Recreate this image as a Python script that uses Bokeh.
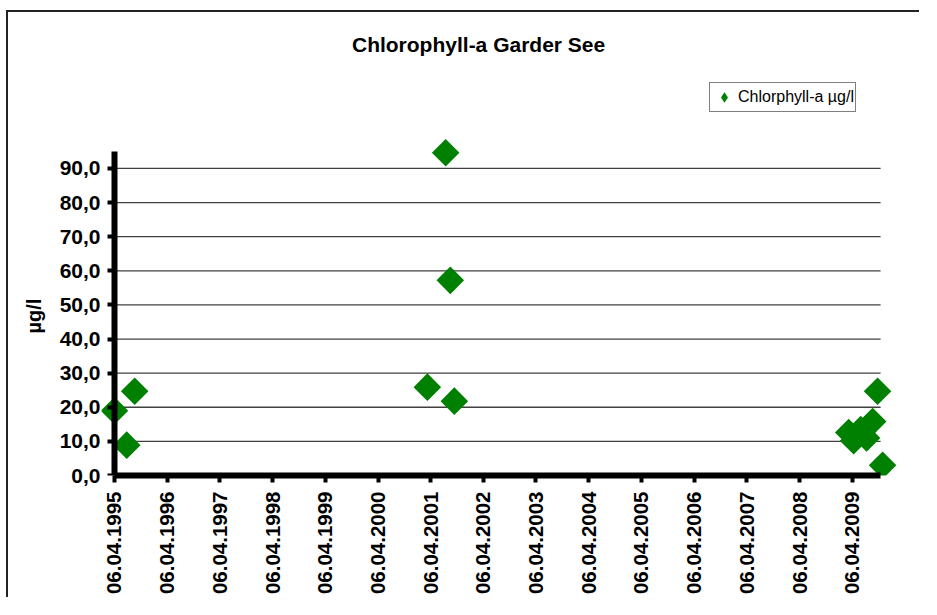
import pandas as pd
from math import pi
from bokeh.plotting import figure
from bokeh.models import (Range1d, FixedTicker, DatetimeTickFormatter, Legend, LegendItem,
                          Title, ColumnDataSource, LinearAxis, Label)
from bokeh.embed import file_html
from bokeh.resources import INLINE

# ---- data ----
sample_dates = ["1995-04-06", "1995-06-30", "1995-08-24",
                "2001-03-14", "2001-07-19", "2001-08-20", "2001-09-17",
                "2009-03-13", "2009-04-16", "2009-06-04", "2009-07-15",
                "2009-08-26", "2009-09-29", "2009-11-03"]
chlorophyll = [19.0, 8.9, 24.7,
               25.9, 94.6, 57.2, 21.8,
               12.6, 10.2, 13.5, 11.0,
               15.8, 24.7, 3.0]

x_tick_dates = ["1995-04-06", "1996-04-06", "1997-04-06", "1998-04-06", "1999-04-06",
                "2000-04-06", "2001-04-06", "2002-04-06", "2003-04-06", "2004-04-06",
                "2005-04-06", "2006-04-06", "2007-04-06", "2008-04-06", "2009-04-06"]
y_ticks = [0, 10, 20, 30, 40, 50, 60, 70, 80, 90]
y_tick_labels = ["0,0", "10,0", "20,0", "30,0", "40,0", "50,0", "60,0", "70,0", "80,0", "90,0"]

x_axis_start, x_axis_end = "1995-04-06", "2009-10-20"
x_view_start, x_view_end = "1995-01-06", "2010-03-07"
y_axis_max = 95
y_view_max = 132.2

title_text = "Chlorophyll-a  Garder See"
y_label = "µg/l"
series_label = "Chlorphyll-a µg/l"


def ms(d):
    return pd.Timestamp(d).timestamp() * 1000.0


FONT = "Liberation Sans"
GREEN = "#008000"

src = ColumnDataSource(dict(date=pd.to_datetime(sample_dates), chl=chlorophyll))

p = figure(width=913, height=587, x_axis_type="datetime",
           output_backend="svg", toolbar_location=None,
           x_range=Range1d(ms(x_view_start), ms(x_view_end)),
           y_range=Range1d(0, y_view_max),
           min_border_left=91, min_border_right=21,
           min_border_top=12, min_border_bottom=124)
p.margin = (10, 0, 0, 6)
p.styles = {"border-top": "2px solid #222", "border-left": "2px solid #222"}
p.outline_line_color = None
p.background_fill_color = "white"
p.border_fill_color = "white"
p.xgrid.visible = False
p.ygrid.visible = False

# chart title (placed in screen units relative to the plot frame)
p.add_layout(Label(x=380, y=431, x_units="screen", y_units="screen", text=title_text,
                   text_align="center", text_baseline="middle", text_color="black",
                   text_font=FONT, text_font_size="21px", text_font_style="bold"))

# gridlines (between axis bounds)
grid_vals = y_ticks[1:]
p.segment(x0=[ms(x_axis_start)] * len(grid_vals), x1=[ms(x_axis_end)] * len(grid_vals),
          y0=grid_vals, y1=grid_vals, line_color="#404040", line_width=1.3)


def style_axis(ax):
    ax.axis_line_width = 6
    ax.axis_line_color = "black"
    ax.major_tick_line_width = 4
    ax.major_tick_line_color = "black"
    ax.major_tick_out = 7
    ax.major_tick_in = 0
    ax.minor_tick_line_color = None
    ax.major_label_text_font = FONT
    ax.major_label_text_font_size = "21px"
    ax.major_label_text_font_style = "bold"
    ax.major_label_text_color = "black"


# x axis
xa = p.xaxis[0]
style_axis(xa)
xa.major_label_text_font_size = "20.5px"
xa.ticker = FixedTicker(ticks=[ms(d) for d in x_tick_dates])
fmt = "%d.%m.%Y"
xa.formatter = DatetimeTickFormatter(microseconds=fmt, milliseconds=fmt, seconds=fmt,
                                     minsec=fmt, minutes=fmt, hourmin=fmt, hours=fmt,
                                     days=fmt, months=fmt, years=fmt)
xa.major_label_orientation = pi / 2
xa.major_label_standoff = 9
xa.bounds = (ms(x_axis_start), ms(x_axis_end))

# y axis: labels only (at frame edge)
ya = p.yaxis[0]
style_axis(ya)
ya.ticker = FixedTicker(ticks=y_ticks)
ya.major_label_overrides = {t: s for t, s in zip(y_ticks, y_tick_labels)}
ya.axis_line_color = None
ya.major_tick_line_color = None
ya.major_tick_out = 0
ya.major_label_standoff = 1

# y axis: line + ticks at the first date (no labels)
yline = LinearAxis(ticker=FixedTicker(ticks=y_ticks), fixed_location=ms(x_axis_start),
                   bounds=(0, y_axis_max))
style_axis(yline)
yline.major_label_text_color = None
yline.major_label_text_font_size = "0px"
yline.major_label_standoff = 0
p.add_layout(yline, "left")

# y axis title
p.add_layout(Title(text=y_label, align="left", offset=142, standoff=24, text_color="black",
                   text_font=FONT, text_font_size="20px", text_font_style="bold"), "left")

# data points (diamonds)
r = p.scatter(x="date", y="chl", source=src, marker="square", angle=pi / 4, size=19.5,
              fill_color=GREEN, line_color=None)

# legend (diamond-shaped proxy glyph, not drawn in the plot)
proxy = p.scatter(x=[ms(sample_dates[0])], y=[chlorophyll[0]], marker="diamond", size=10,
                  fill_color=GREEN, line_color=None, visible=False)
legend = Legend(items=[LegendItem(label=series_label, renderers=[proxy])],
                location=(608, 363), orientation="vertical",
                glyph_width=26, glyph_height=26, padding=1, spacing=0, margin=0,
                label_standoff=1, label_text_font=FONT, label_text_font_size="16px",
                label_text_color="black", border_line_color="black", border_line_width=1,
                background_fill_color="white", background_fill_alpha=1)
p.add_layout(legend, "center")

open("out.html", "w").write(file_html(p, INLINE))
